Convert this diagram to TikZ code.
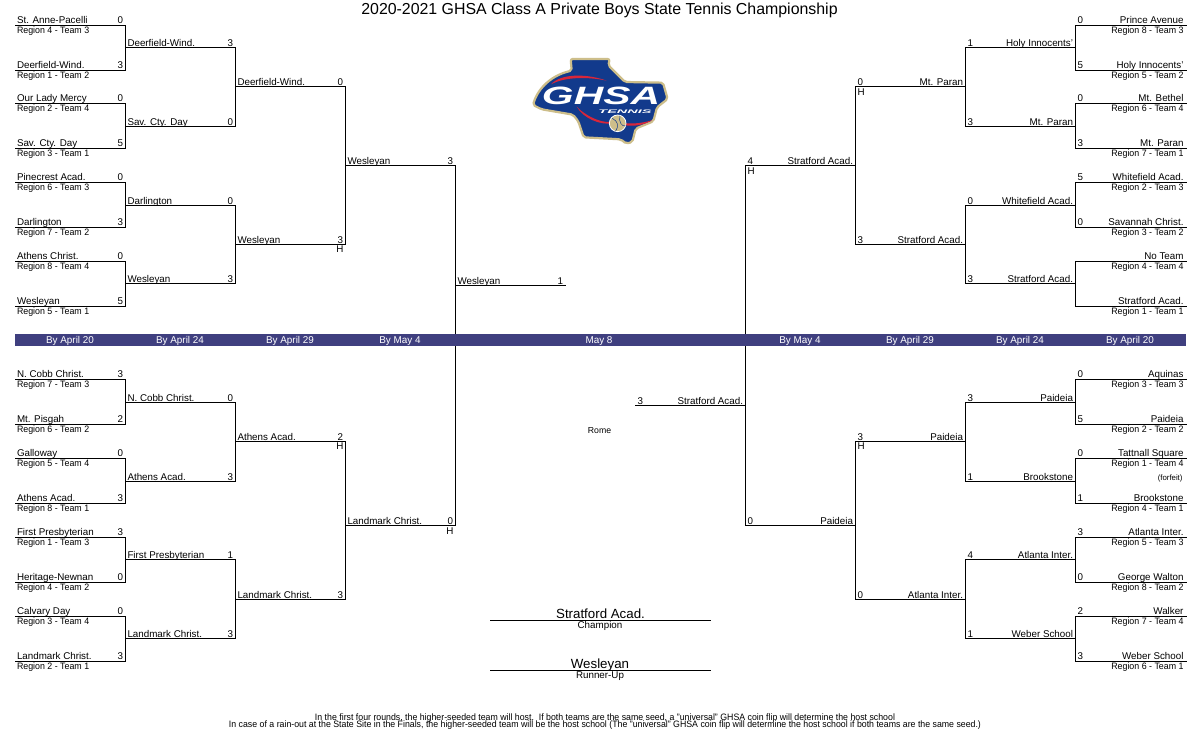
\documentclass[tikz,border=0pt]{standalone}
\usepackage{fontspec}
\setmainfont{Liberation Sans}
\definecolor{bandblue}{HTML}{3F3F7F}
\definecolor{logonavy}{HTML}{123A8C}
\definecolor{logogold}{HTML}{CDBE8A}
\definecolor{logored}{HTML}{D8263A}
\tikzset{
  wire/.style={line width=1pt,line cap=rect,black},
  lbl/.style={inner sep=0pt,outer sep=0pt,font=\fontsize{9.8}{12}\selectfont},
  sublbl/.style={inner sep=0pt,outer sep=0pt,font=\fontsize{9.3}{11}\selectfont},
  bandlbl/.style={inner sep=0pt,outer sep=0pt,text=white,font=\fontsize{9.9}{11}\selectfont}
}
\newcommand\subt[1]{\scalebox{.95}[1]{#1}}
\def\nameoff{1.6}
% left-hand slot: id, x-left, x-right, y, name, score, sub-label
\newcommand\LS[7]{%
  \coordinate (#1a) at (#2,#4);
  \coordinate (#1b) at (#3,#4);
  \draw[wire] (#1a) -- (#1b);
  \node[lbl,anchor=base west] (#1n) at (#2+2,#4-\nameoff) {#5};
  \node[lbl,anchor=base east] (#1s) at (#3-2.5,#4-\nameoff) {#6};
  \node[sublbl,anchor=base west] (#1r) at (#2+2,#4+8) {\subt{#7}};
}
% right-hand slot
\newcommand\RS[7]{%
  \coordinate (#1a) at (#2,#4);
  \coordinate (#1b) at (#3,#4);
  \draw[wire] (#1a) -- (#1b);
  \node[lbl,anchor=base east] (#1n) at (#3-2.5,#4-\nameoff) {#5};
  \node[lbl,anchor=base west] (#1s) at (#2+2,#4-\nameoff) {#6};
  \node[sublbl,anchor=base east] (#1r) at (#3-2.5,#4+8) {\subt{#7}};
}
\begin{document}
\begin{tikzpicture}[x=1pt,y=-1pt]
\useasboundingbox (0,0) rectangle (1200,750);
\fill[white] (0,0) rectangle (1200,750);

\node[inner sep=0pt,anchor=base,font=\fontsize{15.9}{18}\selectfont] (title) at (599.5,14.5) {2020-2021 GHSA Class A Private Boys State Tennis Championship};

% ---------- left upper
\def\nameoff{2.1}
\LS{a1}{15}{125.5}{25.5}{St. Anne-Pacelli}{0}{Region 4 - Team 3}
\LS{a2}{15}{125.5}{70.5}{Deerfield-Wind.}{3}{Region 1 - Team 2}
\def\nameoff{1.6}
\LS{a3}{15}{125.5}{103.5}{Our Lady Mercy}{0}{Region 2 - Team 4}
\LS{a4}{15}{125.5}{148.5}{Sav. Cty. Day}{5}{Region 3 - Team 1}
\LS{a5}{15}{125.5}{182.5}{Pinecrest Acad.}{0}{Region 6 - Team 3}
\LS{a6}{15}{125.5}{227.5}{Darlington}{3}{Region 7 - Team 2}
\LS{a7}{15}{125.5}{261.5}{Athens Christ.}{0}{Region 8 - Team 4}
\LS{a8}{15}{125.5}{306.5}{Wesleyan}{5}{Region 5 - Team 1}
\def\nameoff{0.6}
\LS{b1}{125.5}{235.5}{47.5}{Deerfield-Wind.}{3}{}
\LS{b2}{125.5}{235.5}{126.5}{Sav. Cty. Day}{0}{}
\LS{b3}{125.5}{235.5}{205.5}{Darlington}{0}{}
\LS{b4}{125.5}{235.5}{283.5}{Wesleyan}{3}{}
\LS{c1}{235.5}{345.5}{86.5}{Deerfield-Wind.}{0}{}
\LS{c2}{235.5}{345.5}{244.5}{Wesleyan}{3}{}
\LS{d1}{345.5}{455.5}{165.5}{Wesleyan}{3}{}
\LS{e1}{455.5}{565.5}{285.5}{Wesleyan}{1}{}
\draw[wire] (a1b)--(a2b); \draw[wire] (a3b)--(a4b); \draw[wire] (a5b)--(a6b); \draw[wire] (a7b)--(a8b);
\draw[wire] (b1b)--(b2b); \draw[wire] (b3b)--(b4b);
\draw[wire] (c1b)--(c2b);
\node[lbl,anchor=base east] (hc2) at (343.5,252.5) {H};

% ---------- left lower
\def\nameoff{1.6}
\LS{f1}{15}{125.5}{379.5}{N. Cobb Christ.}{3}{Region 7 - Team 3}
\LS{f2}{15}{125.5}{424.5}{Mt. Pisgah}{2}{Region 6 - Team 2}
\LS{f3}{15}{125.5}{458.5}{Galloway}{0}{Region 5 - Team 4}
\LS{f4}{15}{125.5}{503.5}{Athens Acad.}{3}{Region 8 - Team 1}
\LS{f5}{15}{125.5}{537.5}{First Presbyterian}{3}{Region 1 - Team 3}
\LS{f6}{15}{125.5}{582.5}{Heritage-Newnan}{0}{Region 4 - Team 2}
\LS{f7}{15}{125.5}{616.5}{Calvary Day}{0}{Region 3 - Team 4}
\LS{f8}{15}{125.5}{661.5}{Landmark Christ.}{3}{Region 2 - Team 1}
\def\nameoff{0.6}
\LS{g1}{125.5}{235.5}{402.5}{N. Cobb Christ.}{0}{}
\LS{g2}{125.5}{235.5}{481.5}{Athens Acad.}{3}{}
\LS{g3}{125.5}{235.5}{559.5}{First Presbyterian}{1}{}
\LS{g4}{125.5}{235.5}{638.5}{Landmark Christ.}{3}{}
\LS{h1}{235.5}{345.5}{441.5}{Athens Acad.}{2}{}
\LS{h2}{235.5}{345.5}{599.5}{Landmark Christ.}{3}{}
\LS{i1}{345.5}{455.5}{525.5}{Landmark Christ.}{0}{}
\draw[wire] (f1b)--(f2b); \draw[wire] (f3b)--(f4b); \draw[wire] (f5b)--(f6b); \draw[wire] (f7b)--(f8b);
\draw[wire] (g1b)--(g2b); \draw[wire] (g3b)--(g4b);
\draw[wire] (h1b)--(h2b);
\draw[wire] (d1b)--(i1b);
\node[lbl,anchor=base east] (hh1) at (343.5,449.5) {H};
\node[lbl,anchor=base east] (hi1) at (453.5,534.5) {H};

% ---------- right upper
\def\nameoff{2.1}
\RS{j1}{1075.5}{1186}{25.5}{Prince Avenue}{0}{Region 8 - Team 3}
\RS{j2}{1075.5}{1186}{70.5}{Holy Innocents'}{5}{Region 5 - Team 2}
\def\nameoff{1.6}
\RS{j3}{1075.5}{1186}{103.5}{Mt. Bethel}{0}{Region  6 - Team 4}
\RS{j4}{1075.5}{1186}{148.5}{Mt. Paran}{3}{Region 7 - Team 1}
\RS{j5}{1075.5}{1186}{182.5}{Whitefield Acad.}{5}{Region 2 - Team 3}
\RS{j6}{1075.5}{1186}{227.5}{Savannah Christ.}{0}{Region 3 - Team 2}
\RS{j7}{1075.5}{1186}{261.5}{No Team}{}{Region 4 - Team 4}
\RS{j8}{1075.5}{1186}{306.5}{Stratford Acad.}{}{Region 1 - Team 1}
\def\nameoff{0.6}
\RS{k1}{965.5}{1075.5}{47.5}{Holy Innocents'}{1}{}
\RS{k2}{965.5}{1075.5}{126.5}{Mt. Paran}{3}{}
\RS{k3}{965.5}{1075.5}{205.5}{Whitefield Acad.}{0}{}
\RS{k4}{965.5}{1075.5}{283.5}{Stratford Acad.}{3}{}
\RS{m1}{855.5}{965.5}{86.5}{Mt. Paran}{0}{}
\RS{m2}{855.5}{965.5}{244.5}{Stratford Acad.}{3}{}
\RS{n1}{745.5}{855.5}{165.5}{Stratford Acad.}{4}{}
\RS{o1}{635.5}{745.5}{405.5}{Stratford Acad.}{3}{}
\draw[wire] (j1a)--(j2a); \draw[wire] (j3a)--(j4a); \draw[wire] (j5a)--(j6a); \draw[wire] (j7a)--(j8a);
\draw[wire] (k1a)--(k2a); \draw[wire] (k3a)--(k4a);
\draw[wire] (m1a)--(m2a);
\node[lbl,anchor=base west] (hm1) at (857.5,95.5) {H};
\node[lbl,anchor=base west] (hn1) at (747.5,174.5) {H};

% ---------- right lower
\def\nameoff{1.6}
\RS{p1}{1075.5}{1186}{379.5}{Aquinas}{0}{Region 3 - Team 3}
\RS{p2}{1075.5}{1186}{424.5}{Paideia}{5}{Region 2 - Team 2}
\RS{p3}{1075.5}{1186}{458.5}{Tattnall Square}{0}{Region 1 - Team 4}
\RS{p4}{1075.5}{1186}{503.5}{Brookstone}{1}{Region 4 - Team 1}
\RS{p5}{1075.5}{1186}{537.5}{Atlanta Inter.}{3}{Region 5 - Team 3}
\RS{p6}{1075.5}{1186}{582.5}{George Walton}{0}{Region 8 - Team 2}
\RS{p7}{1075.5}{1186}{616.5}{Walker}{2}{Region 7 - Team 4}
\RS{p8}{1075.5}{1186}{661.5}{Weber School}{3}{Region 6 - Team 1}
\def\nameoff{0.6}
\RS{q1}{965.5}{1075.5}{402.5}{Paideia}{3}{}
\RS{q2}{965.5}{1075.5}{481.5}{Brookstone}{1}{}
\RS{q3}{965.5}{1075.5}{559.5}{Atlanta Inter.}{4}{}
\RS{q4}{965.5}{1075.5}{638.5}{Weber School}{1}{}
\RS{r1}{855.5}{965.5}{441.5}{Paideia}{3}{}
\RS{r2}{855.5}{965.5}{599.5}{Atlanta Inter.}{0}{}
\RS{t1}{745.5}{855.5}{525.5}{Paideia}{0}{}
\draw[wire] (p1a)--(p2a); \draw[wire] (p3a)--(p4a); \draw[wire] (p5a)--(p6a); \draw[wire] (p7a)--(p8a);
\draw[wire] (q1a)--(q2a); \draw[wire] (q3a)--(q4a);
\draw[wire] (r1a)--(r2a);
\draw[wire] (n1a)--(t1a);
\node[lbl,anchor=base west] (hr1) at (857.5,449.5) {H};
\node[sublbl,anchor=base east,font=\fontsize{7.8}{9}\selectfont] (forfeit) at (1182.5,480.5) {(forfeit)};

% ---------- band
\fill[bandblue] (15,334) rectangle (1186,346);
\foreach \nm/\x/\t in {ba/70/By April 20,bb/180/By April 24,bc/290/By April 29,bd/400/By May 4,be/599/May 8,bf/800/By May 4,bg/910/By April 29,bh/1020/By April 24,bi/1130/By April 20}
  \node[bandlbl,anchor=base] (\nm) at (\x,343.3) {\t};

% ---------- centre
\node[sublbl,anchor=base,font=\fontsize{8.7}{10}\selectfont] (rome) at (599.5,433.5) {Rome};
\coordinate (cha) at (490.5,620.5); \coordinate (chb) at (710.5,620.5);
\draw[wire] (cha)--(chb);
\node[lbl,anchor=base,font=\fontsize{13.3}{15}\selectfont] (champ) at (600.5,618) {Stratford Acad.};
\node[sublbl,anchor=base,font=\fontsize{9.8}{11}\selectfont] (champl) at (600,628) {Champion};
\coordinate (rua) at (490.5,670.5); \coordinate (rub) at (710.5,670.5);
\draw[wire] (rua)--(rub);
\node[lbl,anchor=base,font=\fontsize{13.3}{15}\selectfont] (runner) at (600,668) {Wesleyan};
\node[sublbl,anchor=base,font=\fontsize{9.8}{11}\selectfont] (runnerl) at (600,678) {Runner-Up};

\node[sublbl,anchor=base] (foot1) at (605,720.5) {\resizebox{580pt}{\height}{In the first four rounds, the higher-seeded team will host.\ \ If both teams are the same seed, a "universal" GHSA coin flip will determine the host school}};
\node[sublbl,anchor=base] (foot2) at (605,727) {\resizebox{752pt}{\height}{In case of a rain-out at the State Site in the Finals, the higher-seeded team will be the host school (The "universal" GHSA coin flip will determine the host school if both teams are the same seed.)}};

% ---------- logo
\begin{scope}[shift={(525,50)},x=.3333pt,y=-.3333pt]
\draw[draw=logogold,fill=logonavy,line width=2.2pt,rounded corners=2pt,line join=round]
  (137,27) -- (254,27) -- (250,46) -- (300,96) -- (414,98) -- (428,147) -- (396,172)
  -- (385,214) -- (332,236) -- (322,276) -- (304,281) -- (287,268) -- (176,262)
  -- (160,214) -- (144,194) -- (50,178) -- (24,165)
  .. controls (35,125) and (70,78) .. (140,62) -- cycle;
\fill[logored] (78,103) .. controls (110,68) and (190,72) .. (245,92)
  .. controls (190,80) and (120,80) .. (78,103) -- cycle;
\fill[logored] (155,170) .. controls (190,205) and (240,222) .. (262,214)
  -- (262,220) .. controls (225,226) and (175,205) .. (155,170) -- cycle;
\fill[logored] (300,220) .. controls (330,222) and (360,218) .. (382,210)
  .. controls (362,224) and (330,230) .. (300,226) -- cycle;
\node[inner sep=0pt,text=white,font=\bfseries\itshape] (logotext) at (228,139)
  {\resizebox{118pt}{17.5pt}{GHSA}};
\node[inner sep=0pt,text=white,font=\bfseries\itshape] (logosub) at (300,185)
  {\resizebox{53pt}{3.6pt}{TENNIS}};
\draw[white,line width=.8pt,fill=logogold] (278,220) circle (25);
\draw[logonavy,line width=.5pt] (262,205) .. controls (280,215) and (282,228) .. (272,243);
\draw[logonavy,line width=.5pt] (285,197) .. controls (280,215) and (290,230) .. (302,228);
\end{scope}
\end{tikzpicture}
\end{document}
